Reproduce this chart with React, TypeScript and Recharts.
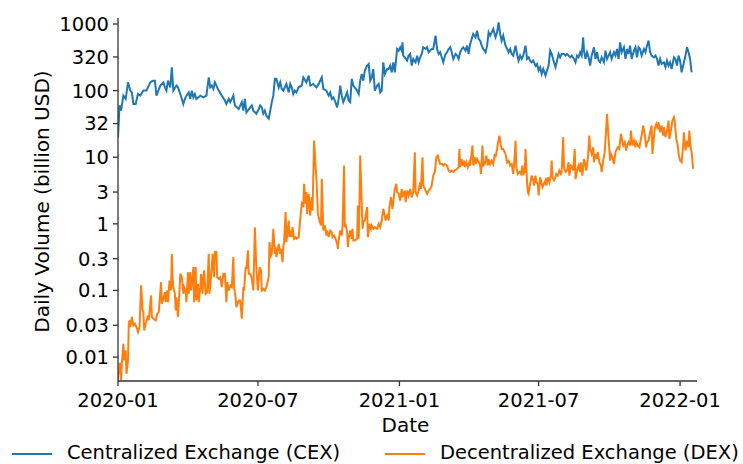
import React from 'react';
import { LineChart, Line, XAxis, YAxis, Label } from 'recharts';

// days since 2020-01-01
const cexDays = [0, 2, 4, 7, 10, 13, 16, 18, 20, 23, 26, 29, 33, 37, 39, 42, 45, 48, 50, 55, 59, 61, 63, 65, 68, 70, 72, 76, 78, 81, 85, 87, 89, 92, 94, 96, 98, 100, 102, 107, 111, 115, 118, 120, 122, 124, 126, 128, 131, 135, 139, 141, 144, 146, 150, 152, 157, 161, 163, 165, 167, 172, 174, 176, 180, 183, 185, 187, 189, 191, 193, 196, 198, 200, 202, 204, 206, 209, 211, 213, 215, 219, 222, 224, 226, 228, 230, 232, 235, 239, 241, 245, 248, 250, 254, 258, 261, 265, 267, 271, 274, 276, 278, 280, 282, 285, 287, 289, 291, 293, 298, 300, 302, 304, 306, 311, 313, 315, 317, 319, 321, 324, 326, 328, 330, 332, 334, 337, 339, 341, 343, 345, 347, 350, 352, 354, 356, 358, 360, 363, 365, 367, 369, 370, 371, 373, 376, 378,
  380, 382, 384, 387, 389, 391, 393, 395, 397, 400, 402, 404, 406, 408, 410, 413, 415, 417, 419, 421, 423, 426, 428, 430, 432, 434, 436, 439, 441, 443, 445, 447, 449, 452, 454, 456, 458, 460, 462, 465, 467, 469, 471, 473, 475, 478, 480, 482, 484, 486, 488, 491, 493, 495, 497, 499, 501, 504, 506, 508, 510, 512, 514, 517, 519, 521, 523, 525, 527, 530, 532, 534, 536, 538, 540, 543, 545, 547, 549, 551, 553, 556, 558, 560, 562, 564, 567, 569, 571, 573, 575, 577, 580, 582, 584, 586, 588, 590, 593, 595, 597, 599, 601, 603, 605, 606, 608, 610, 612, 614, 616, 619, 621, 623, 625, 627, 629, 632, 634, 636, 638, 640, 642, 645, 647, 649, 651, 653, 655, 658, 660, 662, 664, 666, 668, 671, 673, 675, 677, 679, 681, 684, 686, 688, 690, 692, 694, 697, 699, 701, 703, 705, 707, 710, 712, 714, 716, 718, 720, 723, 725, 727, 729, 731, 733, 736, 738, 740, 742, 744, 746];
const cexVolume = [20, 60, 50, 84, 75, 133, 100, 94, 63, 63, 89, 84, 100, 100, 112, 133, 141, 141, 84, 119, 133, 112, 100, 141, 112, 224, 100, 119, 112, 89, 63, 75, 84, 94, 75, 100, 79, 89, 75, 84, 79, 84, 158, 112, 119, 106, 133, 119, 100, 84, 71, 63, 75, 67, 84, 60, 53, 67, 50, 75, 47, 56, 60, 50, 45, 53, 60, 56, 45, 50, 42, 38, 50, 67, 84, 150, 150, 112, 133, 106, 100, 126, 94, 126, 112, 89, 100, 94, 112, 119, 158, 133, 168, 119, 126, 112, 126, 158, 106, 100, 84, 94, 75, 79, 71, 56, 75, 119, 84, 67, 94, 71, 67, 150, 119, 100, 89, 141, 178, 141, 200, 237, 251, 141, 158, 211, 100, 119, 126, 94, 100, 266, 178, 211, 211, 237, 188, 266, 188, 422, 398, 447, 398, 531, 335, 316, 282, 335,
  355, 237, 299, 266, 335, 266, 316, 355, 447, 422, 447, 376, 398, 422, 422, 668, 422, 355, 376, 316, 266, 355, 376, 422, 447, 376, 299, 355, 335, 299, 376, 422, 447, 398, 473, 355, 501, 596, 708, 631, 794, 596, 562, 473, 422, 376, 473, 750, 668, 750, 841, 631, 750, 1059, 708, 562, 668, 473, 422, 376, 422, 355, 335, 473, 355, 282, 335, 299, 335, 473, 299, 316, 282, 266, 282, 237, 251, 200, 224, 178, 211, 168, 200, 237, 398, 355, 266, 224, 282, 355, 316, 355, 355, 335, 355, 335, 316, 335, 299, 266, 335, 316, 376, 335, 631, 398, 299, 376, 316, 237, 335, 447, 299, 376, 282, 266, 316, 266, 398, 299, 335, 376, 299, 376, 335, 422, 299, 531, 376, 447, 299, 422, 355, 473, 299, 398, 447, 316, 447, 422, 335, 422, 376, 473, 562, 376, 335, 316, 335, 299, 237, 299, 251, 266, 224, 282, 237, 266, 211, 316, 299, 237, 335, 282, 188, 266, 335, 447, 376, 299, 188];

const dexDays = [0, 2, 3, 4, 5, 7, 8, 10, 11, 13, 14, 15, 16, 18, 20, 22, 24, 26, 28, 30, 32, 33, 34, 36, 39, 40, 43, 44, 46, 49, 51, 53, 56, 57, 59, 61, 62, 64, 65, 67, 69, 70, 71, 72, 74, 75, 76, 78, 80, 81, 83, 85, 86, 88, 89, 91, 92, 94, 95, 97, 98, 99, 101, 102, 104, 105, 107, 108, 110, 111, 112, 114, 116, 118, 119, 121, 122, 123, 125, 126, 128, 129, 131, 133, 135, 137, 139, 141, 142, 144, 146, 148, 150, 151, 153, 154, 157, 159, 161, 163, 164, 166, 167, 169, 170, 172, 174, 176, 178, 180, 182, 184, 186, 187, 189, 191, 193, 196, 197, 199, 200, 202, 204, 205, 206, 209, 211, 212, 214, 215, 216, 218, 219, 222, 223, 225, 226, 227, 229, 231, 232, 235, 237, 239, 241, 242, 244, 245, 246, 248, 250, 252, 253, 255, 257, 258, 260, 262, 264, 265, 267, 269, 271, 272, 274, 276, 278, 279, 281, 283, 285, 286, 287, 289, 291, 292, 294, 295, 296, 298, 299, 300, 302, 304, 305, 306, 308, 311, 312, 313, 314, 315, 317, 318, 319, 321, 324, 325, 327, 329, 330, 332, 334, 337, 339, 341, 343, 345, 347, 348, 350, 352, 353, 355, 357, 358, 360, 362, 363, 365, 367, 369, 370, 373, 374, 376, 378, 380,
  382, 384, 386, 387, 389, 391, 393, 394, 396, 397, 399, 402, 404, 406, 408, 410, 412, 414, 416, 417, 419, 421, 423, 425, 428, 430, 432, 434, 436, 438, 441, 443, 444, 445, 447, 448, 450, 451, 453, 455, 457, 458, 461, 462, 464, 465, 467, 469, 471, 472, 474, 475, 477, 479, 481, 482, 484, 486, 488, 490, 491, 493, 494, 496, 498, 499, 501, 504, 506, 508, 510, 512, 514, 516, 517, 518, 520, 522, 524, 526, 527, 529, 530, 532, 533, 534, 536, 538, 540, 541, 543, 544, 546, 547, 549, 550, 552, 554, 556, 557, 559, 561, 563, 564, 565, 567, 569, 570, 572, 574, 576, 577, 579, 580, 582, 584, 586, 587, 589, 591, 592, 594, 595, 597, 599, 601, 602, 604, 606, 608, 609, 611, 613, 614, 616, 618, 619, 621, 623, 624, 626, 628, 629, 631, 633, 635, 636, 638, 640, 641, 643, 645, 647, 648, 650, 652, 654, 655, 657, 659, 661, 662, 664, 666, 667, 669, 671, 673, 674, 676, 678, 680, 681, 683, 685, 687, 688, 690, 692, 694, 695, 697, 698, 700, 702, 703, 705, 707, 709, 710, 712, 714, 716, 717, 719, 721, 723, 724, 726, 728, 729, 731, 733, 735, 736, 738, 740, 742, 743, 745, 746, 748];
const dexVolume = [0.0045, 0.0079, 0.0079, 0.0045, 0.0079, 0.0158, 0.0089, 0.0126, 0.0056, 0.0089, 0.0316, 0.0355, 0.0282, 0.04, 0.0299, 0.0316, 0.0282, 0.0237, 0.0282, 0.119, 0.05, 0.0473, 0.025, 0.0316, 0.0422, 0.0355, 0.0841, 0.04, 0.0376, 0.0355, 0.0447, 0.0473, 0.133, 0.063, 0.075, 0.0944, 0.0668, 0.1, 0.0668, 0.141, 0.1, 0.355, 0.15, 0.112, 0.0891, 0.05, 0.079, 0.04, 0.1, 0.178, 0.158, 0.0891, 0.112, 0.1, 0.0668, 0.188, 0.0891, 0.188, 0.1, 0.158, 0.224, 0.0668, 0.224, 0.0708, 0.126, 0.0668, 0.112, 0.178, 0.0891, 0.158, 0.2, 0.0891, 0.0944, 0.355, 0.0891, 0.158, 0.224, 0.355, 0.158, 0.376, 0.376, 0.158, 0.15, 0.158, 0.112, 0.178, 0.178, 0.0668, 0.133, 0.1, 0.119, 0.112, 0.316, 0.112, 0.079, 0.0562, 0.0708, 0.0708, 0.0376, 0.112, 0.1, 0.224, 0.211, 0.4, 0.178, 0.178, 0.15, 0.1, 0.891, 0.2, 0.1, 0.224, 0.2, 0.1, 0.106, 0.1, 0.112, 0.158, 0.531, 0.335, 0.355, 0.841, 0.355, 0.447, 0.316, 0.5, 0.355, 0.422, 0.266, 0.447, 0.531, 1.5, 0.531, 1.12, 0.631, 0.794, 0.631, 0.891, 0.596, 0.631, 0.596, 0.631, 1.19, 2.0, 1.78, 3.98, 2.0, 2.99, 1.41, 2.82, 1.33, 2.51, 1.58, 17.8, 7.08, 5.01, 1.41, 1.12, 0.944, 4.73, 0.794, 0.944, 0.668, 0.794, 0.631, 0.794, 0.75, 0.631, 0.668, 0.596, 0.5, 0.422, 0.562, 0.794, 0.668, 0.891, 7.5, 0.891, 1.0, 0.75, 0.447, 0.596, 0.794, 0.596, 0.841, 0.562, 0.562, 0.596, 1.88, 0.596, 1.88, 10.6, 2.0, 0.841, 1.06, 1.12, 1.78, 0.631, 1.0, 0.841, 0.944, 0.841, 0.891, 0.841, 1.0, 0.891, 1.12, 1.68, 1.33, 1.12, 1.33, 1.12, 1.78, 2.51, 1.68, 2.11, 3.35, 3.98, 2.99, 2.82, 2.24, 3.35, 2.51, 3.16, 2.11, 3.16, 2.66, 3.35,
  2.51, 2.99, 11.9, 2.99, 2.66, 3.16, 4.2, 3.35, 10.0, 3.76, 3.35, 2.82, 3.16, 3.35, 3.76, 5.3, 6.0, 10.0, 10.6, 9.4, 7.9, 7.9, 7.5, 7.9, 7.5, 6.3, 6.0, 6.3, 6.0, 6.3, 6.7, 7.1, 13.3, 7.1, 9.4, 7.5, 8.9, 7.1, 8.4, 7.1, 8.4, 7.5, 15.0, 7.5, 10.0, 7.9, 9.4, 8.4, 7.5, 5.6, 15.0, 7.5, 7.9, 10.6, 7.5, 9.4, 7.9, 8.9, 7.9, 11.2, 10.0, 13.3, 15.8, 21.1, 15.0, 13.3, 13.3, 11.2, 8.4, 8.9, 7.5, 7.9, 5.6, 10.6, 17.8, 7.1, 5.6, 6.0, 5.6, 7.5, 5.6, 6.0, 13.3, 4.2, 2.99, 2.82, 4.0, 5.3, 4.5, 3.76, 5.3, 4.2, 4.0, 2.66, 5.0, 4.5, 3.55, 4.0, 4.5, 3.76, 5.0, 4.2, 5.3, 8.9, 5.0, 4.5, 5.0, 5.6, 5.3, 6.3, 5.6, 6.0, 20.0, 7.1, 6.0, 6.3, 8.4, 5.3, 7.5, 7.1, 6.3, 13.3, 4.7, 6.3, 7.5, 6.0, 8.4, 5.3, 9.4, 7.5, 6.3, 9.4, 21.1, 13.3, 11.2, 14.1, 8.4, 11.2, 9.4, 11.9, 8.4, 7.5, 6.0, 8.9, 11.9, 28.2, 44.7, 18.8, 8.9, 11.2, 10.0, 7.9, 11.9, 12.6, 14.1, 13.3, 22.4, 20.0, 15.0, 16.8, 12.6, 15.0, 16.8, 15.0, 25.1, 15.0, 17.8, 14.1, 16.8, 15.0, 14.1, 18.8, 21.1, 29.9, 22.4, 14.1, 16.8, 17.8, 23.7, 29.9, 11.2, 20.0, 26.6, 31.6, 26.6, 33.5, 23.7, 29.9, 21.1, 28.2, 20.0, 25.1, 35.5, 18.8, 25.1, 35.5, 39.8, 35.5, 18.8, 15.0, 11.2, 8.9, 8.4, 15.0, 23.7, 12.6, 17.8, 14.1, 25.1, 13.3, 11.9, 6.7];

const xTickDays = [0, 182, 366, 547, 731];
const xTickLabels = ['2020-01', '2020-07', '2021-01', '2021-07', '2022-01'];
const yTicks = [0.01, 0.03, 0.1, 0.3, 1, 3, 10, 32, 100, 320, 1000];
const yTickLabels = ['0.01', '0.03', '0.1', '0.3', '1', '3', '10', '32', '100', '320', '1000'];
const seriesNames = ['Centralized Exchange (CEX)', 'Decentralized Exchange (DEX)'];
const seriesColors = ['#1f77b4', '#ff7f0e'];

const cexData = cexDays.map((d, i) => ({ day: d, vol: cexVolume[i] }));
const dexData = dexDays.map((d, i) => ({ day: d, vol: dexVolume[i] }));

const FONT = 'DejaVu Sans, sans-serif';
const AXIS = '#333333';

export default function App() {
  const tickStyle = { fill: '#000', fontSize: 19.5, fontFamily: FONT };
  return (
    <div style={{ position: 'absolute', left: 0, top: 0, width: 743, height: 464, background: '#fff', fontFamily: FONT, overflow: 'hidden' }}>
      <LineChart width={743} height={464} margin={{ top: 18, right: 46, bottom: 0, left: 0 }}>
        <XAxis
          type="number"
          dataKey="day"
          domain={[0, 753]}
          allowDataOverflow
          ticks={xTickDays}
          interval={0}
          tickFormatter={(v: number) => xTickLabels[xTickDays.indexOf(v)] ?? ''}
          height={83}
          tick={tickStyle}
          tickSize={5}
          tickMargin={7}
          axisLine={{ stroke: AXIS, strokeWidth: 1.3 }}
          tickLine={{ stroke: AXIS, strokeWidth: 1.3 }}
        >
          <Label
            content={(props: any) => {
              const vb = props.viewBox || { x: 118, y: 381, width: 579, height: 83 };
              return (
                <text x={vb.x + vb.width / 2 - 2} y={vb.y + 51} textAnchor="middle" fontSize={20} fontFamily={FONT} fill="#000">
                  Date
                </text>
              );
            }}
          />
        </XAxis>
        <YAxis
          type="number"
          scale="log"
          domain={[0.00437, 1230]}
          allowDataOverflow
          ticks={yTicks}
          interval={0}
          tickFormatter={(v: number) => yTickLabels[yTicks.indexOf(v)] ?? ''}
          width={118}
          tick={tickStyle}
          tickSize={5}
          tickMargin={4}
          axisLine={{ stroke: AXIS, strokeWidth: 1.3 }}
          tickLine={{ stroke: AXIS, strokeWidth: 1.3 }}
        >
          <Label
            content={(props: any) => {
              const vb = props.viewBox || { x: 0, y: 18, width: 118, height: 363 };
              const cy = vb.y + vb.height / 2 + 2;
              return (
                <text
                  transform={`translate(42, ${cy}) rotate(-90)`}
                  textAnchor="middle"
                  dominantBaseline="central"
                  fontSize={20}
                  fontFamily={FONT}
                  fill="#000"
                >
                  Daily Volume (billion USD)
                </text>
              );
            }}
          />
        </YAxis>
        <Line data={cexData} dataKey="vol" name={seriesNames[0]} stroke={seriesColors[0]} strokeWidth={2} dot={false} isAnimationActive={false} type="linear" />
        <Line data={dexData} dataKey="vol" name={seriesNames[1]} stroke={seriesColors[1]} strokeWidth={2} dot={false} isAnimationActive={false} type="linear" />
      </LineChart>
      {[0, 1].map((i) => (
        <React.Fragment key={i}>
          <div style={{ position: 'absolute', left: i === 0 ? 12 : 385, top: 453, width: 40, height: 2, background: seriesColors[i] }} />
          <div style={{ position: 'absolute', left: i === 0 ? 67 : 440, top: 442, fontSize: 19.5, lineHeight: '22px', fontFamily: FONT, color: '#000', whiteSpace: 'nowrap' }}>
            {seriesNames[i]}
          </div>
        </React.Fragment>
      ))}
    </div>
  );
}
